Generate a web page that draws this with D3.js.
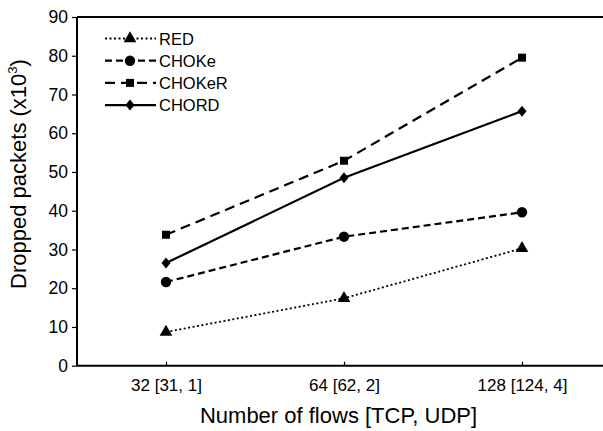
<!DOCTYPE html>
<html><head><meta charset="utf-8">
<script src="https://cdn.jsdelivr.net/npm/d3@7"></script>
<style>body{margin:0;background:#fff;} svg{display:block;font-family:"Liberation Sans",Arial,sans-serif;}</style>
</head><body><div id="c"></div>
<script>
const categories = ["32 [31, 1]", "64 [62, 2]", "128 [124, 4]"];
const seriesNames = ["RED", "CHOKe", "CHOKeR", "CHORD"];
const redValues = [8.7, 17.4, 30.3];
const chokeValues = [21.6, 33.3, 39.6];
const chokerValues = [33.8, 52.9, 79.5];
const chordValues = [26.5, 48.5, 65.7];
const yTicks = [0, 10, 20, 30, 40, 50, 60, 70, 80, 90];

const series = [
  {name: seriesNames[0], values: redValues, dash: "2,2.5", marker: "triangle"},
  {name: seriesNames[1], values: chokeValues, dash: "7,4", marker: "circle"},
  {name: seriesNames[2], values: chokerValues, dash: "10,6", marker: "square"},
  {name: seriesNames[3], values: chordValues, dash: null, marker: "diamond"}
];

const W = 603, H = 431;
const svg = d3.select("#c").append("svg").attr("width", W).attr("height", H);
const x = d3.scalePoint().domain(categories).range([77, 611]).padding(0.5);
const y = d3.scaleLinear().domain([0, 90]).range([365.7, 17]);

const markerPath = {
  triangle: d3.symbol().type(d3.symbolTriangle).size(70)(),
  circle: d3.symbol().type(d3.symbolCircle).size(85)(),
  square: d3.symbol().type(d3.symbolSquare).size(64)(),
  diamond: "M0,-5.5L4.5,0L0,5.5L-4.5,0Z"
};

// frame top
svg.append("line").attr("x1", 77).attr("x2", W).attr("y1", y(90)).attr("y2", y(90))
  .attr("stroke", "#000").attr("stroke-width", 2);

// y axis
const ya = svg.append("g").attr("transform", "translate(77,0)")
  .call(d3.axisLeft(y).tickValues(yTicks).tickSize(5).tickPadding(4));
ya.select(".domain").attr("stroke-width", 2).attr("d", `M0,${y(0)}V${y(90)}`);
ya.selectAll(".tick line").attr("stroke-width", 1.2);
ya.selectAll("text").attr("font-size", 17.5).attr("fill", "#000").attr("font-family", "Liberation Sans, Arial, sans-serif");

// x axis
const xa = svg.append("g").attr("transform", `translate(0,${y(0)})`)
  .call(d3.axisBottom(x).tickSize(-4).tickPadding(13));
xa.select(".domain").attr("stroke-width", 2).attr("d", `M77,0H${W}`);
xa.selectAll(".tick line").attr("stroke-width", 1.2);
xa.selectAll("text").attr("font-size", 17).attr("fill", "#000").attr("font-family", "Liberation Sans, Arial, sans-serif");

// lines
const line = d3.line().x((d, i) => x(categories[i])).y(d => y(d));
series.forEach(s => {
  svg.append("path").attr("d", line(s.values)).attr("fill", "none")
    .attr("stroke", "#000").attr("stroke-width", s.dash === "2,2.5" ? 1.8 : 2.2)
    .attr("stroke-dasharray", s.dash);
  svg.selectAll(null).data(s.values).enter().append("path")
    .attr("d", markerPath[s.marker])
    .attr("transform", (d, i) => `translate(${x(categories[i])},${y(d)})`)
    .attr("fill", "#000");
});

// legend
const lg = svg.append("g");
series.forEach((s, i) => {
  const cy = 38.5 + i * 22.2;
  lg.append("line").attr("x1", 105).attr("x2", 156).attr("y1", cy).attr("y2", cy)
    .attr("stroke", "#000").attr("stroke-width", s.dash === "2,2.5" ? 1.8 : 2.2)
    .attr("stroke-dasharray", s.dash);
  lg.append("path").attr("d", markerPath[s.marker]).attr("transform", `translate(130,${cy})`).attr("fill", "#000");
  lg.append("text").attr("x", 159).attr("y", cy + 6).attr("font-size", 16.5).text(s.name);
});

// axis titles
svg.append("text").attr("x", (200 + 477) / 2).attr("y", 423).attr("text-anchor", "middle")
  .attr("font-size", 22).text("Number of flows [TCP, UDP]");
const yt = svg.append("text").attr("transform", `translate(26,174) rotate(-90)`)
  .attr("text-anchor", "middle").attr("font-size", 22);
yt.append("tspan").text("Dropped packets (x10");
yt.append("tspan").attr("font-size", 13).attr("dy", -9).text("3");
yt.append("tspan").attr("dy", 9).text(")");
</script></body></html>
